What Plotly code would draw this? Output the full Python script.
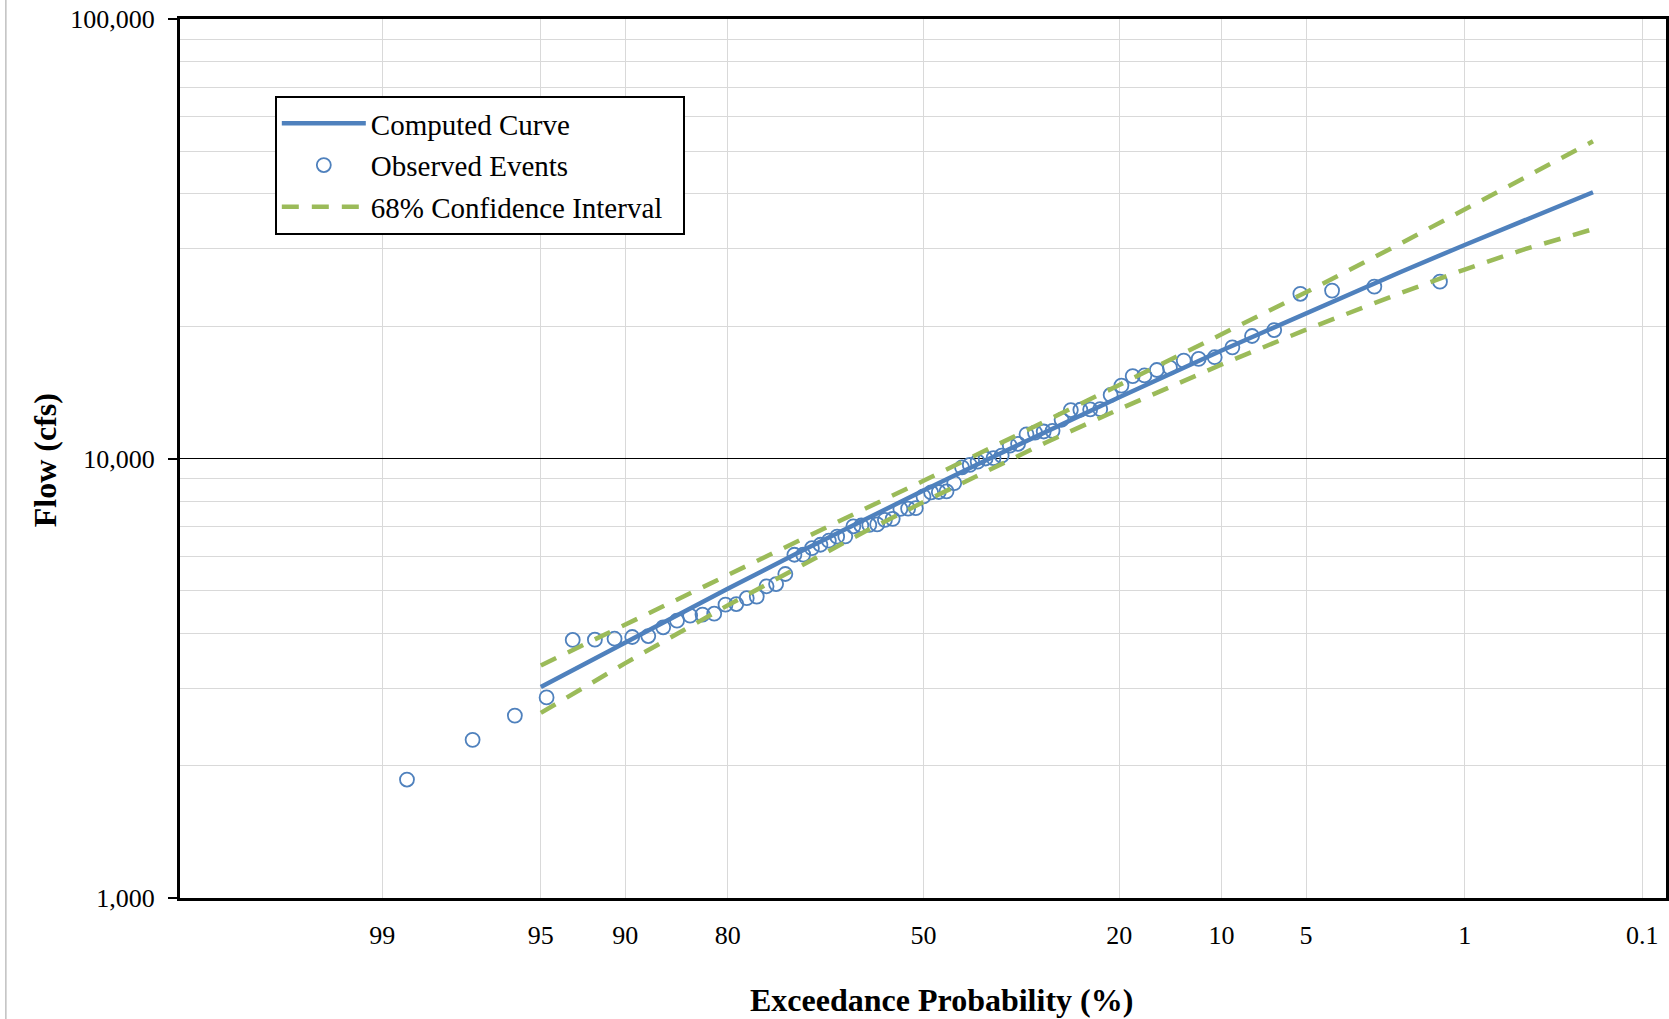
import plotly.graph_objects as go
from statistics import NormalDist

# ---------------- data ----------------
obs_prob = [1.32, 2.63, 3.95, 5.26, 6.58, 7.89, 9.21, 10.53, 11.84, 13.16,
            14.47, 15.79, 17.11, 18.42, 19.74, 21.05, 22.37, 23.68, 25.00, 26.32,
            27.63, 28.95, 30.26, 31.58, 32.89, 34.21, 35.53, 36.84, 38.16, 39.47,
            40.79, 42.11, 43.42, 44.74, 46.05, 47.37, 48.68, 50.00, 51.32, 52.63,
            53.95, 55.26, 56.58, 57.89, 59.21, 60.53, 61.84, 63.16, 64.47, 65.79,
            67.11, 68.42, 69.74, 71.05, 72.37, 73.68, 75.00, 76.32, 77.63, 78.95,
            80.26, 81.58, 82.89, 84.21, 85.53, 86.84, 88.16, 89.47, 90.79, 92.11,
            93.42, 94.74, 96.05, 97.37, 98.68]
obs_flow = [25250, 24600, 24100, 23700, 19600, 19000, 17900, 17000, 16850, 16700,
            16100, 15900, 15450, 15400, 14650, 13950, 12950, 12930, 12910, 12890,
            12250, 11560, 11520, 11450, 11350, 10800, 10700, 10150, 10020, 10000,
            9840, 9670, 9550, 8790, 8420, 8390, 8370, 8200, 7710, 7690,
            7680, 7290, 7250, 7080, 7060, 7040, 7010, 6650, 6640, 6500,
            6365, 6250, 6045, 6040, 5460, 5180, 5120, 4850, 4810, 4665,
            4650, 4435, 4415, 4390, 4275, 4130, 3945, 3925, 3890, 3870,
            3865, 2860, 2600, 2290, 1860]

curve_prob = [95, 90, 80, 70, 60, 50, 40, 30, 20, 10, 5, 2, 1, 0.5, 0.2]
curve_flow = [3021, 3824, 5055, 6157, 7264, 8456, 9822, 11500, 13785, 17610,
              21440, 26610, 30610, 34740, 40350]
ci_upper = [3381, 4194, 5443, 6551, 7678, 8897, 10330, 12150, 14700, 19170,
            23890, 30900, 36800, 43230, 52700]
ci_lower = [2637, 3424, 4633, 5719, 6812, 7964, 9273, 10860, 12950, 16360,
            19650, 23820, 26910, 29840, 33250]

tick_probs = [99, 95, 90, 80, 50, 20, 10, 5, 1, 0.1]
tick_text = ["99", "95", "90", "80", "50", "20", "10", "5", "1", "0.1"]
y_major = [1000, 10000, 100000]
y_major_text = ["1,000", "10,000", "100,000"]
y_minor = [2000, 3000, 4000, 5000, 6000, 7000, 8000, 9000,
           20000, 30000, 40000, 50000, 60000, 70000, 80000, 90000]

# normal probability scale (exceedance)
_nd = NormalDist()
def zscale(p):
    return _nd.inv_cdf(1 - p / 100.0)

BLUE = "#4F81BD"
GREEN = "#9BBB59"
FONT = "Liberation Serif"

fig = go.Figure()
fig.add_trace(go.Scatter(
    x=[zscale(p) for p in curve_prob], y=curve_flow, mode="lines",
    name="Computed Curve", legendgroup="a",
    line=dict(color=BLUE, width=4.5)))
fig.add_trace(go.Scatter(
    x=[zscale(p) for p in obs_prob], y=obs_flow, mode="markers",
    name="Observed Events", legendgroup="b",
    marker=dict(symbol="circle-open", size=14, color=BLUE,
                line=dict(width=1.8, color=BLUE))))
fig.add_trace(go.Scatter(
    x=[zscale(p) for p in curve_prob], y=ci_upper, mode="lines",
    name="68% Confidence Interval&nbsp;&nbsp;", legendgroup="c",
    line=dict(color=GREEN, width=4.5, dash="17px,13px")))
fig.add_trace(go.Scatter(
    x=[zscale(p) for p in curve_prob], y=ci_lower, mode="lines",
    name="68% Confidence Interval", legendgroup="c", showlegend=False,
    line=dict(color=GREEN, width=4.5, dash="17px,13px")))

fig.update_layout(
    width=1669, height=1019,
    margin=dict(l=180, r=0, t=19, b=121, pad=0),
    paper_bgcolor="white", plot_bgcolor="white",
    font=dict(family=FONT, size=26, color="black"),
    showlegend=True,
    legend=dict(
        x=(275 - 180) / 1489, y=1 - (96 - 19) / 879, xanchor="left", yanchor="top",
        bgcolor="white", bordercolor="black", borderwidth=2,
        font=dict(family=FONT, size=29, color="black"),
        traceorder="grouped", tracegroupgap=1, itemwidth=84,
    ),
    xaxis=dict(
        range=[-3.196, 3.192],
        tickmode="array",
        tickvals=[zscale(p) for p in tick_probs],
        ticktext=tick_text,
        showgrid=True, gridcolor="#d9d9d9", gridwidth=1,
        zeroline=False,
        showline=True, linecolor="black", linewidth=3, mirror=True,
        ticks="", ticklabelstandoff=12,
        tickfont=dict(family=FONT, size=26, color="black"),
    ),
    yaxis=dict(
        type="log", range=[3, 5],
        tickmode="array", tickvals=y_major, ticktext=y_major_text,
        showgrid=True, gridcolor="black", gridwidth=1,
        zeroline=False,
        showline=True, linecolor="black", linewidth=3, mirror=True,
        ticks="outside", ticklen=9, tickwidth=1.5, tickcolor="black",
        ticklabelstandoff=8,
        tickfont=dict(family=FONT, size=26, color="black"),
        minor=dict(tickmode="array", tickvals=y_minor, showgrid=True,
                   gridcolor="#d9d9d9", gridwidth=1, ticks=""),
    ),
)

fig.add_annotation(
    text="<b>Exceedance Probability (%)</b>", xref="paper", yref="paper",
    x=(943 - 180) / 1489, y=-(1000 - 898) / 879, xanchor="center", yanchor="middle",
    showarrow=False, font=dict(family=FONT, size=32, color="black"))
fig.add_annotation(
    text="<b>Flow (cfs)</b>", xref="paper", yref="paper",
    x=(45 - 180) / 1489, y=1 - (460 - 19) / 879, xanchor="center", yanchor="middle",
    textangle=-90, showarrow=False, font=dict(family=FONT, size=32, color="black"))

# chart-area border at far left
fig.add_shape(type="line", xref="paper", yref="paper",
              x0=(5.5 - 180) / 1489, x1=(5.5 - 180) / 1489,
              y0=-(1019 - 898) / 879, y1=1 + 19 / 879,
              line=dict(color="#c0c0c0", width=1.5))

fig.write_html("out.html", config={"displayModeBar": False},
               post_script="document.body.style.margin='0';")
